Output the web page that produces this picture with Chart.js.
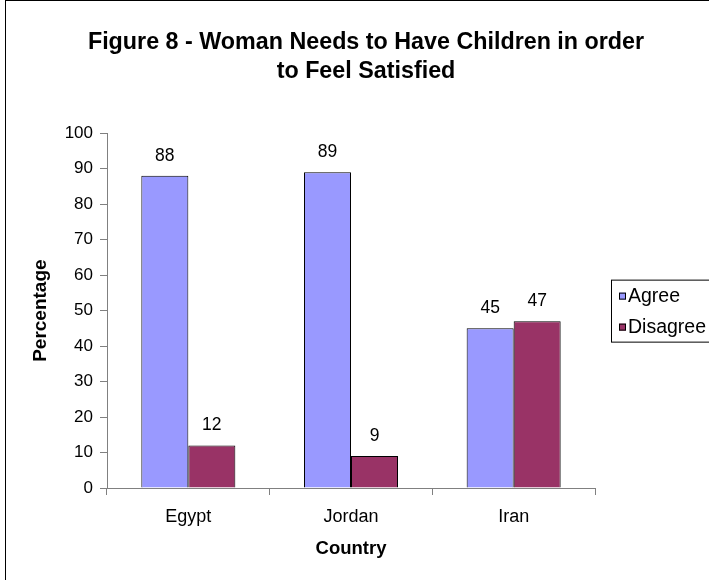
<!DOCTYPE html>
<html>
<head>
<meta charset="utf-8">
<title>Figure 8</title>
<script src="https://cdn.jsdelivr.net/npm/chart.js@4/dist/chart.umd.min.js"></script>
<style>
    body { margin: 0; background: #fff; overflow: hidden; }
    #frame { position: absolute; left: 5px; top: 0; width: 720px; height: 600px; border: 1px solid #000; }
</style>
</head>
<body>
<div id="frame"><canvas id="barChart" width="720" height="600"></canvas></div>
<script>
var countries = ['Egypt', 'Jordan', 'Iran'];
var agree = [88, 89, 45];
var disagree = [12, 9, 47];
var yTicks = [0, 10, 20, 30, 40, 50, 60, 70, 80, 90, 100];

var FONT = "'Liberation Sans', Arial, sans-serif";

// value printed above each bar
var barValues = {
    id: 'barValues',
    afterDatasetsDraw: function (chart) {
        var ctx = chart.ctx;
        ctx.save();
        ctx.font = '17.5px ' + FONT;
        ctx.fillStyle = '#000';
        ctx.textAlign = 'center';
        ctx.textBaseline = 'alphabetic';
        chart.data.datasets.forEach(function (ds, i) {
            chart.getDatasetMeta(i).data.forEach(function (bar, j) {
                ctx.fillText(ds.data[j], bar.x, bar.y - 15);
            });
        });
        ctx.restore();
    }
};

// keep the title centred on the whole canvas, not just the plot side
var fullTitle = {
    id: 'fullTitle',
    afterLayout: function (chart) {
        if (chart.titleBlock) {
            chart.titleBlock.left = 0;
            chart.titleBlock.right = chart.width;
            chart.titleBlock.width = chart.width;
        }
    }
};

// boxed legend to the right of the plot
var boxLegend = {
    id: 'boxLegend',
    afterDraw: function (chart) {
        var ctx = chart.ctx;
        var area = chart.chartArea;
        var left = area.right + 16;
        var top = (area.top + area.bottom) / 2 - 31;
        ctx.save();
        ctx.strokeStyle = '#000';
        ctx.lineWidth = 1;
        ctx.strokeRect(left + 0.5, top + 0.5, 112, 62);
        ctx.font = '19.5px ' + FONT;
        ctx.textBaseline = 'middle';
        chart.data.datasets.forEach(function (ds, i) {
            var cy = top + 16 + i * 31;
            ctx.fillStyle = ds.backgroundColor;
            ctx.fillRect(left + 8, cy - 3, 7, 7);
            ctx.strokeRect(left + 8.5, cy - 2.5, 6, 6);
            ctx.fillStyle = '#000';
            ctx.fillText(ds.label, left + 17, cy + 1);
        });
        ctx.restore();
    }
};

function loadChart() {
    var ctx = document.getElementById('barChart').getContext('2d');
    new Chart(ctx, {
        type: 'bar',
        data: {
            labels: countries,
            datasets: [{
                label: 'Agree',
                data: agree,
                backgroundColor: '#9999FF',
                borderColor: '#000',
                borderWidth: 1
            }, {
                label: 'Disagree',
                data: disagree,
                backgroundColor: '#993366',
                borderColor: '#000',
                borderWidth: 1
            }]
        },
        plugins: [barValues, fullTitle, boxLegend],
        options: {
            responsive: false,
            animation: false,
            devicePixelRatio: 1,
            layout: { padding: { left: 0, right: 131, top: 0, bottom: 33 } },
            datasets: { bar: { barPercentage: 1, categoryPercentage: 0.578 } },
            plugins: {
                legend: { display: false },
                tooltip: { enabled: false },
                title: {
                    display: true,
                    text: ['Figure 8 - Woman Needs to Have Children in order', 'to Feel Satisfied'],
                    color: '#000',
                    font: { family: FONT, size: 23.3, weight: 'bold', lineHeight: 1.25 },
                    padding: { top: 27, bottom: 47 }
                }
            },
            scales: {
                x: {
                    afterFit: function (s) { s.height = 80; },
                    grid: { drawOnChartArea: false, tickLength: 7, color: '#808080', offset: true },
                    border: { color: '#808080' },
                    ticks: { color: '#000', padding: 11, font: { family: FONT, size: 18 } },
                    title: {
                        display: true,
                        text: 'Country',
                        color: '#000',
                        font: { family: FONT, size: 18.5, weight: 'bold' },
                        padding: { top: 0, bottom: 8 }
                    }
                },
                y: {
                    min: yTicks[0],
                    max: yTicks[yTicks.length - 1],
                    afterFit: function (s) { s.width = 101; },
                    afterBuildTicks: function (s) {
                        s.ticks = yTicks.map(function (v) { return { value: v }; });
                    },
                    grid: { drawOnChartArea: false, tickLength: 7, color: '#808080' },
                    border: { color: '#808080' },
                    ticks: { color: '#000', padding: 7, font: { family: FONT, size: 17 } },
                    title: {
                        display: true,
                        text: 'Percentage',
                        color: '#000',
                        font: { family: FONT, size: 19, weight: 'bold' },
                        padding: { top: 23, bottom: 0 }
                    }
                }
            }
        }
    });
}

loadChart();
</script>
</body>
</html>
